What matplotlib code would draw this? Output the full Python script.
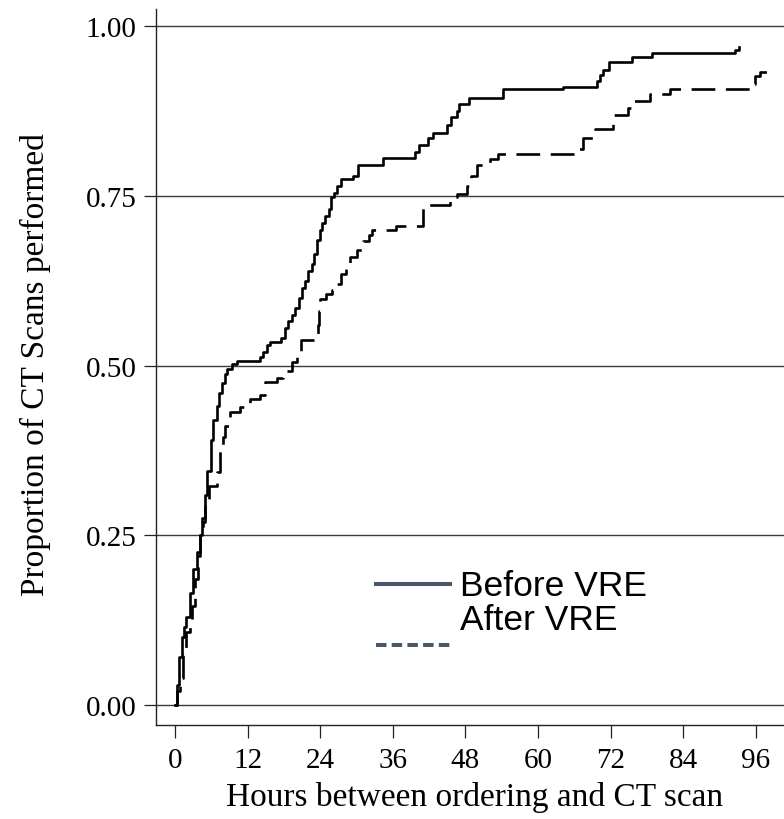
import numpy as np
import matplotlib
matplotlib.use("Agg")
import matplotlib.pyplot as plt
from matplotlib.lines import Line2D

# cumulative proportion of CT scans done, by hours since ordering
before_hours = [0, 0.3, 0.7, 1.1, 1.5, 1.9, 2.5, 3.0, 3.6, 4.1, 4.4, 5.0, 5.3, 5.9,
                6.3, 6.9, 7.3, 7.7, 8.2, 8.6, 9.4, 10.2, 14.0, 14.5, 15.2, 15.7,
                17.6, 18.2, 18.6, 19.3, 19.9, 20.5, 21.0, 21.5, 22.0, 22.6, 23.0,
                23.4, 23.9, 24.3, 24.8, 25.4, 25.8, 26.3, 26.8, 27.4, 29.5, 30.3,
                34.4, 39.7, 40.4, 41.8, 42.7, 44.9, 45.6, 46.6, 47.0, 48.6, 54.2,
                64.1, 69.8, 70.2, 70.8, 71.8, 75.5, 78.8, 92.6, 93.3]
before_prop = [0, 0.03, 0.07, 0.10, 0.115, 0.13, 0.165, 0.20, 0.225, 0.25, 0.275,
               0.31, 0.345, 0.39, 0.42, 0.44, 0.46, 0.475, 0.487, 0.495, 0.502,
               0.507, 0.512, 0.52, 0.53, 0.535, 0.54, 0.555, 0.565, 0.575, 0.585,
               0.60, 0.615, 0.625, 0.64, 0.65, 0.665, 0.685, 0.70, 0.71, 0.72,
               0.73, 0.748, 0.755, 0.765, 0.775, 0.78, 0.796, 0.806, 0.815, 0.825,
               0.835, 0.842, 0.855, 0.866, 0.875, 0.885, 0.895, 0.907, 0.911,
               0.92, 0.928, 0.935, 0.948, 0.954, 0.960, 0.965, 0.970]

after_hours = [0, 0.4, 0.8, 1.4, 1.9, 2.4, 2.8, 3.3, 3.8, 4.1, 4.6, 5.0, 5.7, 6.9,
               7.4, 7.9, 8.3, 9.1, 10.7, 12.4, 14.0, 14.9, 16.8, 17.9, 19.3, 20.1,
               20.9, 23.4, 23.6, 23.8, 24.0, 25.0, 25.9, 26.5, 27.5, 28.2, 28.9,
               30.0, 31.1, 32.0, 32.5, 36.6, 41.0, 45.5, 46.6, 48.2, 49.0, 49.9,
               52.1, 53.4, 66.1, 67.5, 69.4, 72.4, 74.9, 75.7, 78.5, 81.8, 95.0,
               95.9, 96.7, 98.9]
after_prop = [0, 0.02, 0.04, 0.073, 0.107, 0.125, 0.146, 0.186, 0.22, 0.25, 0.27,
              0.294, 0.323, 0.343, 0.377, 0.395, 0.411, 0.431, 0.439, 0.451, 0.456,
              0.476, 0.482, 0.492, 0.505, 0.519, 0.537, 0.540, 0.56, 0.58, 0.598,
              0.605, 0.612, 0.62, 0.635, 0.645, 0.66, 0.67, 0.683, 0.693, 0.70,
              0.706, 0.736, 0.748, 0.753, 0.765, 0.78, 0.795, 0.804, 0.812, 0.819,
              0.836, 0.849, 0.869, 0.880, 0.890, 0.900, 0.907, 0.915, 0.927, 0.933,
              0.936]

xticks = [0, 12, 24, 36, 48, 60, 72, 84, 96]
yticks = [0.0, 0.25, 0.5, 0.75, 1.0]
legend_labels = ["Before VRE", "After VRE"]

serif = "Liberation Serif"
W, H = 784, 820
fig = plt.figure(figsize=(W / 100, H / 100), dpi=100)
ax = fig.add_axes([156 / W, 1 - 726 / H, 628 / W, 716 / H])

for y in yticks:
    ax.axhline(y, color="#3a3a3a", lw=1.0, zorder=1)

ax.step(before_hours, before_prop, where="post", color="black", lw=1.9, zorder=3)
ax.step(after_hours, after_prop, where="post", color="black", lw=1.9,
        linestyle=(0, (9, 4)), zorder=3)

ax.set_xlim(-3.14, 100.66)
ax.set_ylim(-0.0295, 1.0254)
ax.set_xticks(xticks)
ax.set_yticks(yticks)
ax.set_yticklabels(["%.2f" % v for v in yticks])

for s in ["top", "right"]:
    ax.spines[s].set_visible(False)
for s in ["left", "bottom"]:
    ax.spines[s].set_color("#222222")
    ax.spines[s].set_linewidth(1.0)

ax.tick_params(axis="both", direction="out", length=9, width=0.9, color="#222222",
               labelsize=21)
ax.tick_params(axis="x", pad=7)
ax.tick_params(axis="y", pad=5)
for lab in ax.get_xticklabels() + ax.get_yticklabels():
    lab.set_fontfamily(serif)

fig.text(475 / W, 1 - 798 / H, "Hours between ordering and CT scan",
         family=serif, fontsize=24, ha="center", va="center")
fig.text(35 / W, 1 - 365 / H, "Proportion of CT Scans performed",
         family=serif, fontsize=24, ha="center", va="center", rotation=90)

# legend drawn by hand: solid sample beside first entry, dashed one below second
key_col = "#4b586b"
fig.add_artist(Line2D([376 / W, 450 / W], [1 - 585 / H, 1 - 585 / H],
                      color=key_col, lw=2.9))
fig.add_artist(Line2D([376 / W, 450 / W], [1 - 646 / H, 1 - 646 / H],
                      color=key_col, lw=2.9, linestyle=(0, (2.6, 1.3))))
fig.text(460 / W, 1 - 596 / H, legend_labels[0], family="Liberation Sans",
         fontsize=25.5, ha="left", va="baseline")
fig.text(460 / W, 1 - 630 / H, legend_labels[1], family="Liberation Sans",
         fontsize=25.5, ha="left", va="baseline")

fig.savefig("out.png", dpi=100)
